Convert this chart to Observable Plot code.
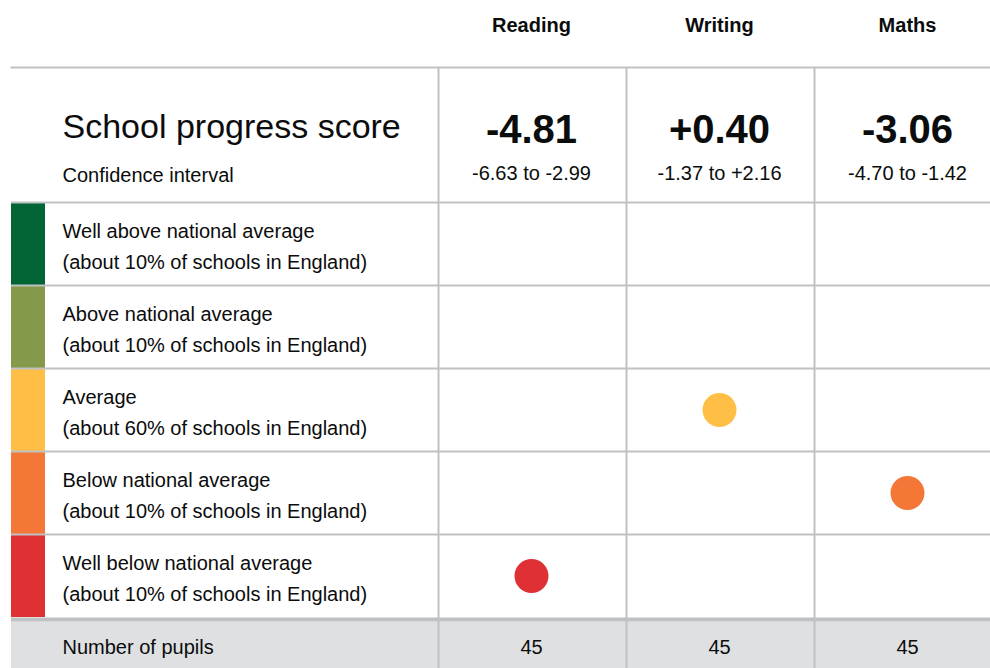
<!DOCTYPE html>
<html>
<head>
<meta charset="utf-8">
<script src="https://cdn.jsdelivr.net/npm/d3@7"></script>
<script src="https://cdn.jsdelivr.net/npm/@observablehq/plot@0.6"></script>
<style>
  html, body { margin: 0; padding: 0; background: #fff; }
  #chart svg { display: block; }
</style>
</head>
<body>
<div id="chart"></div>
<script>
// ---- data ----
const subjects = ["Reading", "Writing", "Maths"];
const scores = ["-4.81", "+0.40", "-3.06"];
const intervals = ["-6.63 to -2.99", "-1.37 to +2.16", "-4.70 to -1.42"];
const pupils = [45, 45, 45];
const bands = [
  "Well above national average",
  "Above national average",
  "Average",
  "Below national average",
  "Well below national average"
];
const bandShares = ["about 10%", "about 10%", "about 60%", "about 10%", "about 10%"];
const bandColors = ["#006435", "#85994b", "#ffbf47", "#f47738", "#df3034"];
const resultBands = ["Well below national average", "Average", "Below national average"];
const titleText = "School progress score";
const ciLabel = "Confidence interval";
const pupilsLabel = "Number of pupils";

// ---- layout (styles, not data) ----
const W = 990, H = 668;
const colW = 188, rowH = 83;
const grid = "#bfc1c3";
const ink = "#0b0c0c";

const results = subjects.map((s, i) => ({subject: s, band: resultBands[i]}));

const chart = Plot.plot({
  width: W,
  height: H,
  marginTop: 67,
  marginLeft: 11,
  marginRight: 0,
  marginBottom: 0,
  style: {fontFamily: "'Liberation Sans', Arial, sans-serif", color: ink, background: "#fff", overflow: "visible"},
  x: {type: "band", domain: subjects, range: [437, 437 + 3 * colW], padding: 0, axis: null},
  y: {type: "band", domain: bands, range: [202, 202 + 5 * rowH], padding: 0, axis: null},
  color: {domain: bands, range: bandColors},
  marks: [
    // colour swatches on the left of each band
    Plot.cell(bands, {y: d => d, fill: d => d, insetRight: (W - 11) - 34}),
    // grey "number of pupils" row
    Plot.ruleY([bands[bands.length - 1]], {y: d => d, dy: rowH / 2 + 4 + 23.5, stroke: "#dee0e2", strokeWidth: 47}),
    // band separators
    Plot.ruleY(bands, {y: d => d, dy: -rowH / 2, stroke: grid, strokeWidth: 2}),
    Plot.ruleY([bands[bands.length - 1]], {y: d => d, dy: rowH / 2 + 2, stroke: grid, strokeWidth: 4}),
    // column separators
    Plot.ruleX(subjects, {x: d => d, dx: -colW / 2 + 1, stroke: grid, strokeWidth: 2}),
    // top rule
    Plot.frame({anchor: "top", stroke: grid, strokeWidth: 2}),
    // column headers
    Plot.text(subjects, {x: d => d, frameAnchor: "top", dy: 31 - 67, lineAnchor: "bottom", fontSize: 20, fontWeight: "bold", fill: ink}),
    // scores
    Plot.text(subjects, {x: d => d, text: (d, i) => scores[i], frameAnchor: "top", dy: 142 - 67, lineAnchor: "bottom", fontSize: 40, fontWeight: "bold", fill: ink}),
    Plot.text(subjects, {x: d => d, text: (d, i) => intervals[i], frameAnchor: "top", dy: 179 - 67, lineAnchor: "bottom", fontSize: 20, fill: ink}),
    // left header
    Plot.text([titleText], {frameAnchor: "top-left", dx: 51, dy: 137 - 67, textAnchor: "start", lineAnchor: "bottom", fontSize: 34, fill: ink}),
    Plot.text([ciLabel], {frameAnchor: "top-left", dx: 51, dy: 181 - 67, textAnchor: "start", lineAnchor: "bottom", fontSize: 20, fill: ink}),
    // band labels
    Plot.text(bands, {
      y: d => d,
      text: (d, i) => `${d}\n(${bandShares[i]} of schools in England)`,
      frameAnchor: "left", dx: 51, textAnchor: "start", lineHeight: 1.55, fontSize: 20, fill: ink
    }),
    // pupils row
    Plot.text([pupilsLabel], {frameAnchor: "bottom-left", dx: 51, dy: 653 - 668, textAnchor: "start", lineAnchor: "bottom", fontSize: 20, fill: ink}),
    Plot.text(subjects, {x: d => d, text: (d, i) => String(pupils[i]), frameAnchor: "bottom", dy: 653 - 668, lineAnchor: "bottom", fontSize: 20, fill: ink}),
    // result dots
    Plot.dot(results, {x: "subject", y: "band", r: 17, fill: "band", stroke: null})
  ]
});

document.getElementById("chart").appendChild(chart);
</script>
</body>
</html>
